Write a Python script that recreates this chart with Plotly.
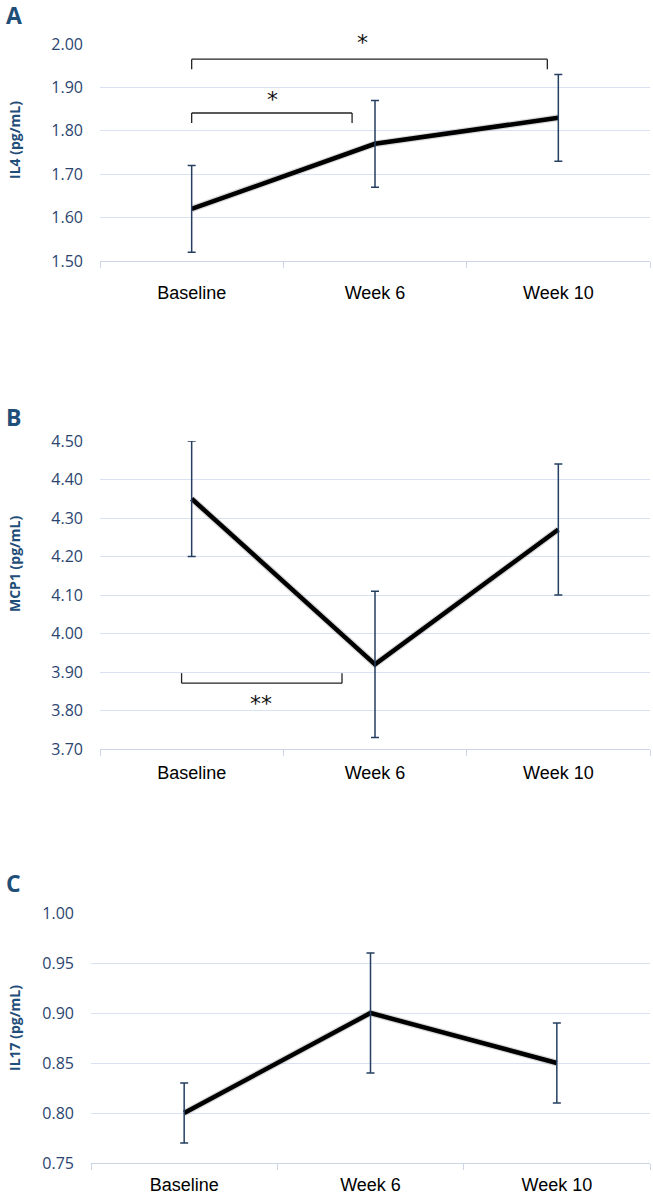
import plotly.graph_objects as go

categories = ["Baseline", "Week 6", "Week 10"]

il4_mean = [1.62, 1.77, 1.83]
il4_err = [0.10, 0.10, 0.10]

mcp1_mean = [4.35, 3.92, 4.27]
mcp1_err = [0.15, 0.19, 0.17]

il17_mean = [0.80, 0.90, 0.85]
il17_err = [0.03, 0.06, 0.04]

panel_letters = ["A", "B", "C"]
y_titles = ["IL4 (pg/mL)", "MCP1 (pg/mL)", "IL17 (pg/mL)"]
y_ranges = [[1.50, 2.00], [3.70, 4.50], [0.75, 1.00]]
y_dticks = [0.10, 0.10, 0.05]

# significance brackets: (x_start, x_end, y_bar, y_tip, label, label_x, label_y)
brackets_a = [
    (0.0, 1.94, 1.965, 1.942, "*", 0.93, 2.003),
    (0.0, 0.875, 1.841, 1.818, "*", 0.44, 1.872),
]
brackets_b = [
    (-0.055, 0.82, 3.871, 3.897, "**", 0.38, 3.818),
]

W, H = 653, 1200
# plot areas in pixels: (left, right, top, bottom)
areas = [(100, 650, 44, 261), (100, 650, 441, 749), (91, 650, 913, 1163)]
x_standoffs = [15, 7, 5]
letter_pos = [(4, 15), (4, 417), (4, 883)]
ytitle_pos = [(14, 140), (14, 564), (14, 1028)]

TICK_COL = "#2B4570"
TITLE_COL = "#1F4E79"
GRID_COL = "#D9E2F3"
ERR_COL = "#243F60"

fig = go.Figure()
series = [(il4_mean, il4_err), (mcp1_mean, mcp1_err), (il17_mean, il17_err)]

for i, (means, errs) in enumerate(series):
    xa = "x" if i == 0 else f"x{i+1}"
    ya = "y" if i == 0 else f"y{i+1}"
    fig.add_trace(go.Scatter(
        x=categories, y=means, mode="lines",
        line=dict(color="rgba(0,0,0,0.15)", width=7),
        xaxis=xa, yaxis=ya, showlegend=False, hoverinfo="skip"))
    fig.add_trace(go.Scatter(
        x=categories, y=means, mode="lines",
        line=dict(color="#000000", width=4.5),
        xaxis=xa, yaxis=ya, showlegend=False))
    fig.add_trace(go.Scatter(
        x=categories, y=means, mode="markers",
        marker=dict(size=1, color="rgba(0,0,0,0)"),
        error_y=dict(type="data", array=errs, visible=True,
                     color=ERR_COL, thickness=1.5, width=4),
        xaxis=xa, yaxis=ya, showlegend=False))

layout = dict(
    width=W, height=H,
    margin=dict(l=0, r=0, t=0, b=0, autoexpand=False),
    paper_bgcolor="white", plot_bgcolor="white",
    font=dict(family="Liberation Sans, Arial, sans-serif"),
    showlegend=False,
)
domains = []
for i, (l, r, t, b) in enumerate(areas):
    xk = "xaxis" if i == 0 else f"xaxis{i+1}"
    yk = "yaxis" if i == 0 else f"yaxis{i+1}"
    yref = "y" if i == 0 else f"y{i+1}"
    xref = "x" if i == 0 else f"x{i+1}"
    ydom = [1 - b / H, 1 - t / H]
    domains.append(ydom)
    layout[xk] = dict(
        domain=[l / W, r / W], anchor=yref, type="category",
        range=[-0.5, 2.5], showgrid=False, zeroline=False,
        showline=True, linecolor="#CCD5E6", linewidth=1,
        ticks="outside", tickson="boundaries", ticklen=6,
        tickcolor="#CCD5E6", tickwidth=1, ticklabelstandoff=x_standoffs[i],
        automargin=False,
        tickfont=dict(size=18, color="#000000",
                      family="Liberation Sans, Arial, sans-serif"),
        fixedrange=True,
    )
    layout[yk] = dict(
        domain=ydom, anchor=xref,
        range=y_ranges[i], dtick=y_dticks[i], tickformat=".2f",
        showgrid=True, gridcolor=GRID_COL, gridwidth=1.3,
        zeroline=False, showline=False, ticks="",
        ticklabelstandoff=16, automargin=False,
        tickfont=dict(size=16, color=TICK_COL,
                      family="Open Sans, Liberation Sans, sans-serif"),
        fixedrange=True,
    )

fig.update_layout(**layout)

annotations = []
shapes = []
for i in range(3):
    lx, ly = letter_pos[i]
    annotations.append(dict(
        text=f"<b>{panel_letters[i]}</b>", x=lx / W, y=1 - ly / H,
        xref="paper", yref="paper", xanchor="left", yanchor="middle",
        showarrow=False, font=dict(size=23, color=TITLE_COL,
                                   family="Open Sans, Liberation Sans, sans-serif")))
    tx, ty = ytitle_pos[i]
    annotations.append(dict(
        text=f"<b>{y_titles[i]}</b>", x=tx / W, y=1 - ty / H,
        xref="paper", yref="paper", xanchor="center", yanchor="middle",
        textangle=-90, showarrow=False,
        font=dict(size=14, color=TITLE_COL,
                  family="Open Sans, Liberation Sans, sans-serif")))


def to_paper(i, v):
    r0, r1 = y_ranges[i]
    d0, d1 = domains[i]
    return d0 + (v - r0) / (r1 - r0) * (d1 - d0)


for i, brs in [(0, brackets_a), (1, brackets_b)]:
    xref = "x" if i == 0 else f"x{i+1}"
    yref = "y" if i == 0 else f"y{i+1}"
    for (x0, x1, yb, ytip, lab, lx, ly) in brs:
        ln = dict(color="#222222", width=1.3)
        shapes.append(dict(type="line", xref=xref, yref=yref,
                           x0=x0, x1=x1, y0=yb, y1=yb, line=ln))
        shapes.append(dict(type="line", xref=xref, yref=yref,
                           x0=x0, x1=x0, y0=yb, y1=ytip, line=ln))
        shapes.append(dict(type="line", xref=xref, yref=yref,
                           x0=x1, x1=x1, y0=yb, y1=ytip, line=ln))
        annotations.append(dict(
            text=lab, x=lx, y=to_paper(i, ly), xref=xref, yref="paper",
            xanchor="center", yanchor="middle", showarrow=False,
            font=dict(size=22, color="#111111",
                      family="DejaVu Sans, sans-serif")))

fig.update_layout(annotations=annotations, shapes=shapes)
fig.write_html(
    "out.html",
    config={"displayModeBar": False},
    post_script="document.body.style.margin='0';document.body.style.overflow='hidden';",
)
